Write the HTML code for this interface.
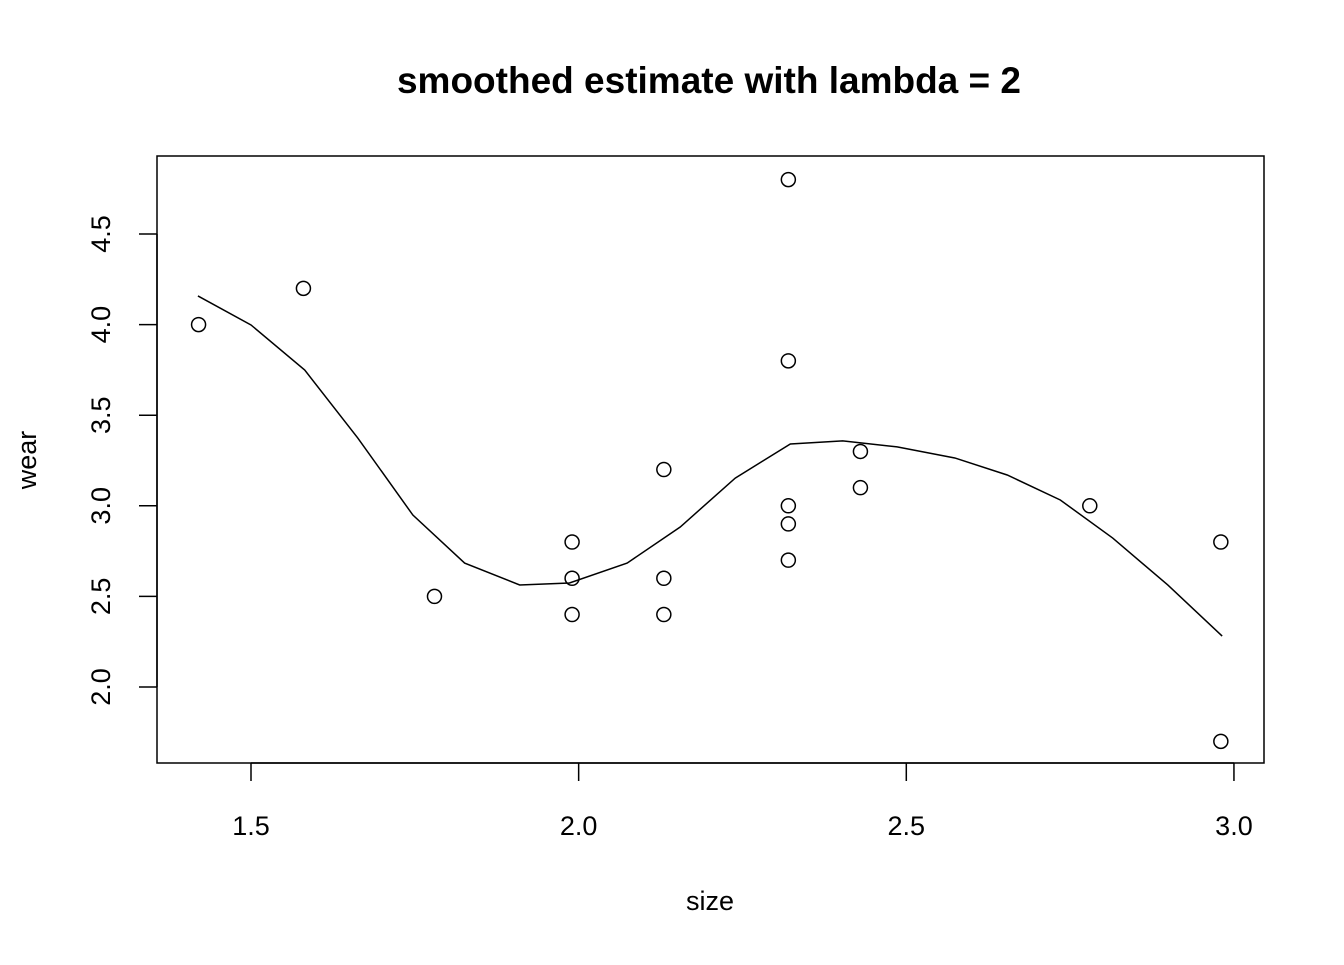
<!DOCTYPE html>
<html><head><meta charset="utf-8"><style>
body{margin:0;background:#fff}
svg text{font-family:"Liberation Sans",Arial,sans-serif;fill:#000}
</style></head><body>
<svg id="chart" width="1344" height="960" xmlns="http://www.w3.org/2000/svg">
<rect width="1344" height="960" fill="#fff"/>
<text x="709" y="93" text-anchor="middle" font-size="37" font-weight="bold">smoothed estimate with lambda = 2</text>
<rect x="157" y="156" width="1107" height="607" fill="none" stroke="#000" stroke-width="1.5"/>
<text x="710" y="910" text-anchor="middle" font-size="27">size</text>
<text transform="translate(36,460) rotate(-90)" text-anchor="middle" font-size="27">wear</text>
<g id="xaxis"></g>
<g id="yaxis"></g>
<g id="marks"></g>
</svg>
<script>
const xTicks=[1.5,2.0,2.5,3.0];
const xTickLabels=["1.5","2.0","2.5","3.0"];
const yTicks=[2.0,2.5,3.0,3.5,4.0,4.5];
const yTickLabels=["2.0","2.5","3.0","3.5","4.0","4.5"];
const pointSize=[1.42,1.58,1.78,1.99,1.99,1.99,2.13,2.13,2.13,2.32,2.32,2.32,2.32,2.32,2.43,2.43,2.78,2.98,2.98];
const pointWear=[4.0,4.2,2.5,2.8,2.6,2.4,3.2,2.6,2.4,4.8,3.8,3.0,2.9,2.7,3.3,3.1,3.0,2.8,1.7];
const smoothX=[1.419,1.5,1.582,1.663,1.747,1.826,1.910,1.986,2.074,2.155,2.239,2.323,2.403,2.486,2.574,2.654,2.735,2.815,2.899,2.982];
const smoothY=[4.158,3.998,3.749,3.374,2.949,2.684,2.563,2.574,2.684,2.883,3.153,3.341,3.358,3.325,3.264,3.170,3.032,2.822,2.563,2.281];
const NS="http://www.w3.org/2000/svg";
const sx=v=>251+(v-1.5)*655.3;
const sy=v=>687-(v-2.0)*181.2;
function mk(tag,attrs,parent){const e=document.createElementNS(NS,tag);for(const k in attrs)e.setAttribute(k,attrs[k]);parent.appendChild(e);return e;}
const xa=document.getElementById('xaxis'),ya=document.getElementById('yaxis'),mg=document.getElementById('marks');
mk('line',{x1:sx(xTicks[0]),x2:sx(xTicks[xTicks.length-1]),y1:763,y2:763,stroke:'#000','stroke-width':1.5},xa);
xTicks.forEach((t,i)=>{
 const l=mk('line',{x1:sx(t),x2:sx(t),y1:763,y2:781,stroke:'#000','stroke-width':1.5},xa);
 
 
 const tx=mk('text',{x:sx(t),y:835,'text-anchor':'middle','font-size':27},xa);tx.textContent=xTickLabels[i];
 
 
});
mk('line',{x1:157,x2:157,y1:sy(yTicks[0]),y2:sy(yTicks[yTicks.length-1]),stroke:'#000','stroke-width':1.5},ya);
yTicks.forEach((t,i)=>{
 const l=mk('line',{x1:139,x2:157,y1:sy(t),y2:sy(t),stroke:'#000','stroke-width':1.5},ya);
 
 
 const tx=mk('text',{transform:`translate(110,${sy(t)}) rotate(-90)`,'text-anchor':'middle','font-size':27},ya);tx.textContent=yTickLabels[i];
 
 
});
const pl=mk('polyline',{points:smoothX.map((x,i)=>sx(x)+','+sy(smoothY[i])).join(' '),fill:'none',stroke:'#000','stroke-width':1.5},mg);


pointSize.forEach((x,i)=>{
 const c=mk('circle',{cx:sx(x),cy:sy(pointWear[i]),r:7,fill:'none',stroke:'#000','stroke-width':1.5},mg);
 
 
});
</script>
</body></html>
